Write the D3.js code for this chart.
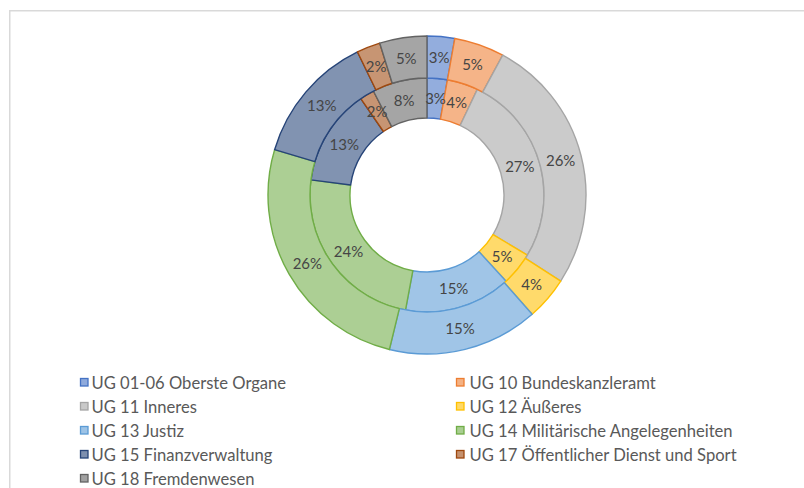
<!DOCTYPE html>
<html><head><meta charset="utf-8">
<script src="https://cdn.jsdelivr.net/npm/d3@7"></script>
<style>html,body{margin:0;padding:0;background:#fff;overflow:hidden}</style>
</head><body>
<svg id="chart" width="804" height="488"></svg>
<script>
const categories = ["UG 01-06 Oberste Organe","UG 10 Bundeskanzleramt","UG 11 Inneres","UG 12 Äußeres","UG 13 Justiz","UG 14 Militärische Angelegenheiten","UG 15 Finanzverwaltung","UG 17 Öffentlicher Dienst und Sport","UG 18 Fremdenwesen"];
const outerValues = [2.8, 5.1, 26.2, 4.4, 15.3, 25.8, 13.2, 2.4, 4.8];
const innerValues = [2.8, 4.3, 26.6, 4.6, 14.8, 24.2, 13.4, 2.0, 7.6];
const seriesColors = ["#4472C4","#ED7D31","#A5A5A5","#FFC000","#5B9BD5","#70AD47","#264478","#9E480E","#636363"];

const svg = d3.select("#chart");
const cx = 427, cy = 195;
const rHole = 77, rMid = 117, rOuter = 159;

// chart frame
svg.append("rect").attr("x", 9.75).attr("y", 10.75).attr("width", 820).attr("height", 500)
  .attr("fill", "none").attr("stroke", "#d9d9d9").attr("stroke-width", 1.5);

const color = d3.scaleOrdinal().domain(categories).range(seriesColors);
const pie = d3.pie().sort(null).value(d => d.v);
const pct = d3.format(".0%");

function ring(values, r0, r1) {
  const total = d3.sum(values);
  const data = pie(values.map((v, i) => ({cat: categories[i], v})));
  const arc = d3.arc().innerRadius(r0).outerRadius(r1);
  const g = svg.append("g").attr("transform", `translate(${cx},${cy})`);
  g.selectAll("path").data(data).join("path")
    .attr("d", arc)
    .attr("fill", d => d3.interpolateRgb("#ffffff", color(d.data.cat))(0.58))
    .attr("stroke", d => color(d.data.cat))
    .attr("stroke-width", 1.4)
    .attr("stroke-linejoin", "round");
  return {g, data, arc, total};
}

const inner = ring(innerValues, rHole, rMid);
const outer = ring(outerValues, rMid, rOuter);

[inner, outer].forEach(r => {
  r.g.selectAll("text").data(r.data).join("text")
    .attr("transform", d => `translate(${r.arc.centroid(d)})`)
    .attr("text-anchor", "middle").attr("dy", "0.36em")
    .attr("font-family", "Lato, 'Open Sans', sans-serif").attr("font-size", 15)
    .attr("fill", "#454545")
    .text(d => pct(d.data.v / r.total));
});

// legend
const colX = [80, 456];
const textX = [11.5, 13.5];
const rowY = [389, 413, 437, 461, 485];
const leg = svg.append("g").attr("font-family", "Lato, 'Open Sans', sans-serif").attr("font-size", 16.6);
const items = leg.selectAll("g").data(categories).join("g")
  .attr("transform", (d, i) => `translate(${colX[i % 2]},${rowY[Math.floor(i / 2)]})`);
items.append("rect").attr("x", 0.5).attr("y", -10.5).attr("width", 7.5).attr("height", 7.5)
  .attr("fill", d => d3.interpolateRgb("#ffffff", color(d))(0.6))
  .attr("stroke", d => color(d)).attr("stroke-width", 1.3);
items.append("text").attr("x", (d, i) => textX[i % 2]).attr("y", 0).attr("fill", "#595959").text(d => d);
</script>
</body></html>
